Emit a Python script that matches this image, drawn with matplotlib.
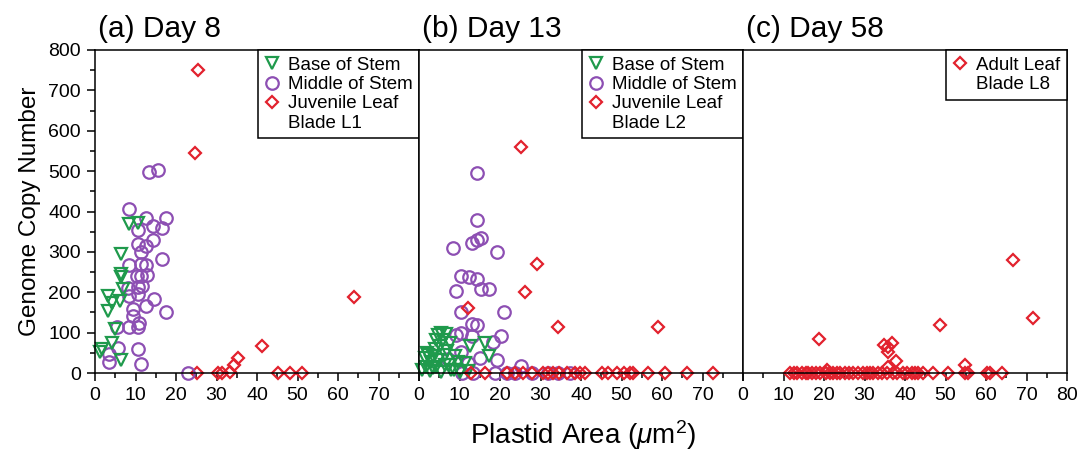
import matplotlib
matplotlib.use("Agg")
import matplotlib.pyplot as plt
from matplotlib.lines import Line2D
from matplotlib.ticker import MultipleLocator

plt.rcParams['font.family'] = ['Liberation Sans', 'DejaVu Sans']
plt.rcParams['mathtext.fontset'] = 'custom'
plt.rcParams['mathtext.rm'] = 'Liberation Sans'
plt.rcParams['mathtext.it'] = 'Liberation Sans:italic'

# ---- data (plastid area um^2, genome copy number) ----
# (a) Day 8
base_a_x = [8.5, 10.5, 6.4, 6.4, 6.4, 7.0, 3.3, 4.1, 6.2, 3.3, 4.9, 4.1, 1.2, 6.4, 1.8]
base_a_y = [370, 372, 295, 245, 237, 208, 191, 174, 178, 153, 108, 74, 53, 32, 60]
mid_a_x = [13.4, 15.5, 8.5, 12.6, 17.5, 10.5, 14.4, 16.5, 10.5, 12.6, 14.4, 11.4,
           8.5, 11.4, 12.6, 16.5, 10.3, 11.4, 12.8, 8.2, 10.5, 11.5, 8.5, 10.5,
           14.6, 12.6, 9.3, 17.5, 9.3, 10.8, 8.5, 10.5, 5.5, 5.6, 10.5, 3.5, 3.5,
           11.4, 23.0]
mid_a_y = [498, 502, 405, 385, 385, 355, 365, 360, 320, 315, 330, 300,
           268, 270, 268, 282, 240, 240, 242, 210, 212, 215, 190, 195,
           183, 165, 158, 150, 140, 125, 113, 113, 115, 63, 60, 47, 27,
           22, 0]
juv_a_x = [25.5, 24.8, 64.0, 41.2, 35.4, 34.3, 33.3, 25.1, 30.3, 31.3, 45.3, 48.2, 51.1]
juv_a_y = [750, 545, 188, 67, 38, 20, 3, 0, 0, 0, 0, 0, 0]

# (b) Day 13
base_b_x = [5.5, 4.7, 6.7, 4.3, 5.9, 5.1, 7.6, 12.5, 16.2, 2.2, 3.5, 1.4, 3.0, 4.7,
            1.8, 4.3, 6.3, 5.5, 8.0, 9.6, 3.5, 8.8, 11.3, 17.3, 2.0, 6.5, 7.4, 0.8,
            2.6, 4.0, 6.8, 10.0, 12.0, 8.6]
base_b_y = [100, 95, 97, 82, 82, 66, 74, 68, 74, 45, 41, 37, 28, 33,
            16, 16, 20, 3, 7, 28, 12, 41, 24, 42, 50, 45, 20, 8,
            5, 60, 55, 2, 5, 8]
mid_b_x = [14.2, 14.2, 15.3, 14.2, 13.0, 8.3, 19.2, 10.3, 12.3, 14.3, 15.3, 17.3,
           9.1, 10.3, 21.1, 13.2, 14.3, 10.3, 13.2, 20.2, 9.1, 18.3, 10.3, 15.1,
           7.2, 19.2, 25.2, 12.2, 10.5, 13.4, 18.8, 21.7, 23.7, 27.8, 31.9, 34.4,
           37.3]
mid_b_y = [495, 380, 335, 330, 322, 310, 300, 240, 237, 233, 208, 207,
           202, 150, 150, 122, 118, 100, 92, 92, 93, 77, 52, 36,
           34, 32, 18, 24, 0, 0, 0, 0, 0, 0, 0, 0,
           0]
juv_b_x = [25.2, 29.1, 26.2, 12.2, 34.2, 59.1,
           12.8, 16.3, 21.7, 23.7, 25.6, 27.8, 30.7, 31.9, 33.2, 34.6, 36.5, 38.5,
           39.8, 41.0, 45.1, 46.7, 48.8, 50.6, 52.1, 52.9, 56.6, 60.7, 66.1, 72.7]
juv_b_y = [560, 270, 200, 160, 113, 113,
           0, 0, 0, 0, 0, 0, 0, 0, 0, 0, 0, 0,
           0, 0, 0, 0, 0, 0, 0, 0, 0, 0, 0, 0]

# (c) Day 58
adult_c_x = [66.7, 71.7, 48.6, 18.8, 34.9, 36.7, 35.9, 35.9, 37.8, 54.8, 35.8, 20.8,
             11.6, 12.5, 13.3, 14.5, 15.5, 16.1, 17.0, 18.0, 19.0, 20.6, 21.5, 22.2,
             23.1, 24.0, 25.2, 26.2, 27.2, 28.5, 29.7, 30.5, 31.4, 32.2, 33.4, 34.2,
             35.5, 37.1, 38.0, 39.6, 40.5, 41.7, 42.5, 43.3, 44.5, 47.0, 50.7, 54.8,
             55.6, 60.2, 61.0, 63.9]
adult_c_y = [280, 135, 118, 85, 70, 75, 65, 52, 30, 20, 15, 8,
             0, 0, 0, 0, 0, 0, 0, 0, 0, 0, 0, 0,
             0, 0, 0, 0, 0, 0, 0, 0, 0, 0, 0, 0,
             0, 0, 0, 0, 0, 0, 0, 0, 0, 0, 0, 0,
             0, 0, 0, 0]

titles = ['(a) Day 8', '(b) Day 13', '(c) Day 58']

green = '#1f9a4c'
purple = '#8d4fb3'
red = '#e2222e'

fig = plt.figure(figsize=(10.84, 4.55), dpi=100)
W, H = 1084, 455
left0, width, bottom, height = 95, 324, 455 - 373, 323
axes = []
for i in range(3):
    ax = fig.add_axes([(left0 + i * width) / W, bottom / H, width / W, height / H])
    axes.append(ax)

style = dict(linestyle='none', mfc='none', mew=1.6, clip_on=False)
tri = dict(marker='v', ms=8.5, mec=green, **style)
circ = dict(marker='o', ms=9, mec=purple, **style)
dia = dict(marker='D', ms=6.5, mec=red, **style)

axes[0].plot(juv_a_x, juv_a_y, **dia)
axes[0].plot(mid_a_x, mid_a_y, **circ)
axes[0].plot(base_a_x, base_a_y, **tri)

axes[1].plot(mid_b_x, mid_b_y, **circ)
axes[1].plot(base_b_x, base_b_y, **tri)
axes[1].plot(juv_b_x, juv_b_y, **dia)

axes[2].plot(adult_c_x, adult_c_y, **dia)

for i, ax in enumerate(axes):
    ax.set_xlim(0, 80)
    ax.set_ylim(0, 800)
    ax.xaxis.set_major_locator(MultipleLocator(10))
    ax.xaxis.set_minor_locator(MultipleLocator(5))
    ax.yaxis.set_major_locator(MultipleLocator(100))
    ax.yaxis.set_minor_locator(MultipleLocator(50))
    labels = [str(v) for v in range(0, 90, 10)]
    if i < 2:
        labels[-1] = ''
    ax.set_xticks(range(0, 90, 10))
    ax.set_xticklabels(labels)
    ax.tick_params(axis='both', which='major', direction='out', length=6, width=1.1,
                   labelsize=14, pad=4)
    ax.tick_params(axis='both', which='minor', direction='out', length=3.5, width=1.1)
    if i > 0:
        ax.tick_params(axis='y', which='both', left=False, labelleft=False)
    for s in ax.spines.values():
        s.set_linewidth(1.1)
    ax.text(0.01, 1.04, titles[i], transform=ax.transAxes, fontsize=21.5,
            ha='left', va='baseline')

axes[0].set_ylabel('Genome Copy Number', fontsize=17.5, labelpad=5)
fig.text(583 / W, 1 - 435 / H, r'Plastid Area ($\mu$m$^2$)', fontsize=20,
         ha='center', va='center')

h_tri = Line2D([], [], **{k: v for k, v in tri.items() if k != 'clip_on'})
h_circ = Line2D([], [], **{k: v for k, v in circ.items() if k != 'clip_on'})
h_dia = Line2D([], [], **{k: v for k, v in dia.items() if k != 'clip_on'})
h_blank = Line2D([], [], linestyle='none')

leg_kw = dict(loc='upper right', borderaxespad=0, fancybox=False, framealpha=1,
              edgecolor='black', fontsize=13.5, handlelength=0.8, handletextpad=0.45,
              borderpad=0.35, labelspacing=0.12)
leg_sets = [
    ([h_tri, h_circ, h_dia, h_blank], ['Base of Stem', 'Middle of Stem', 'Juvenile Leaf', 'Blade L1']),
    ([h_tri, h_circ, h_dia, h_blank], ['Base of Stem', 'Middle of Stem', 'Juvenile Leaf', 'Blade L2']),
    ([h_dia, h_blank], ['Adult Leaf', 'Blade L8']),
]
for ax, (hs, ls) in zip(axes, leg_sets):
    leg = ax.legend(hs, ls, **leg_kw)
    leg.get_frame().set_linewidth(1.1)

fig.savefig('out.png', dpi=100)
